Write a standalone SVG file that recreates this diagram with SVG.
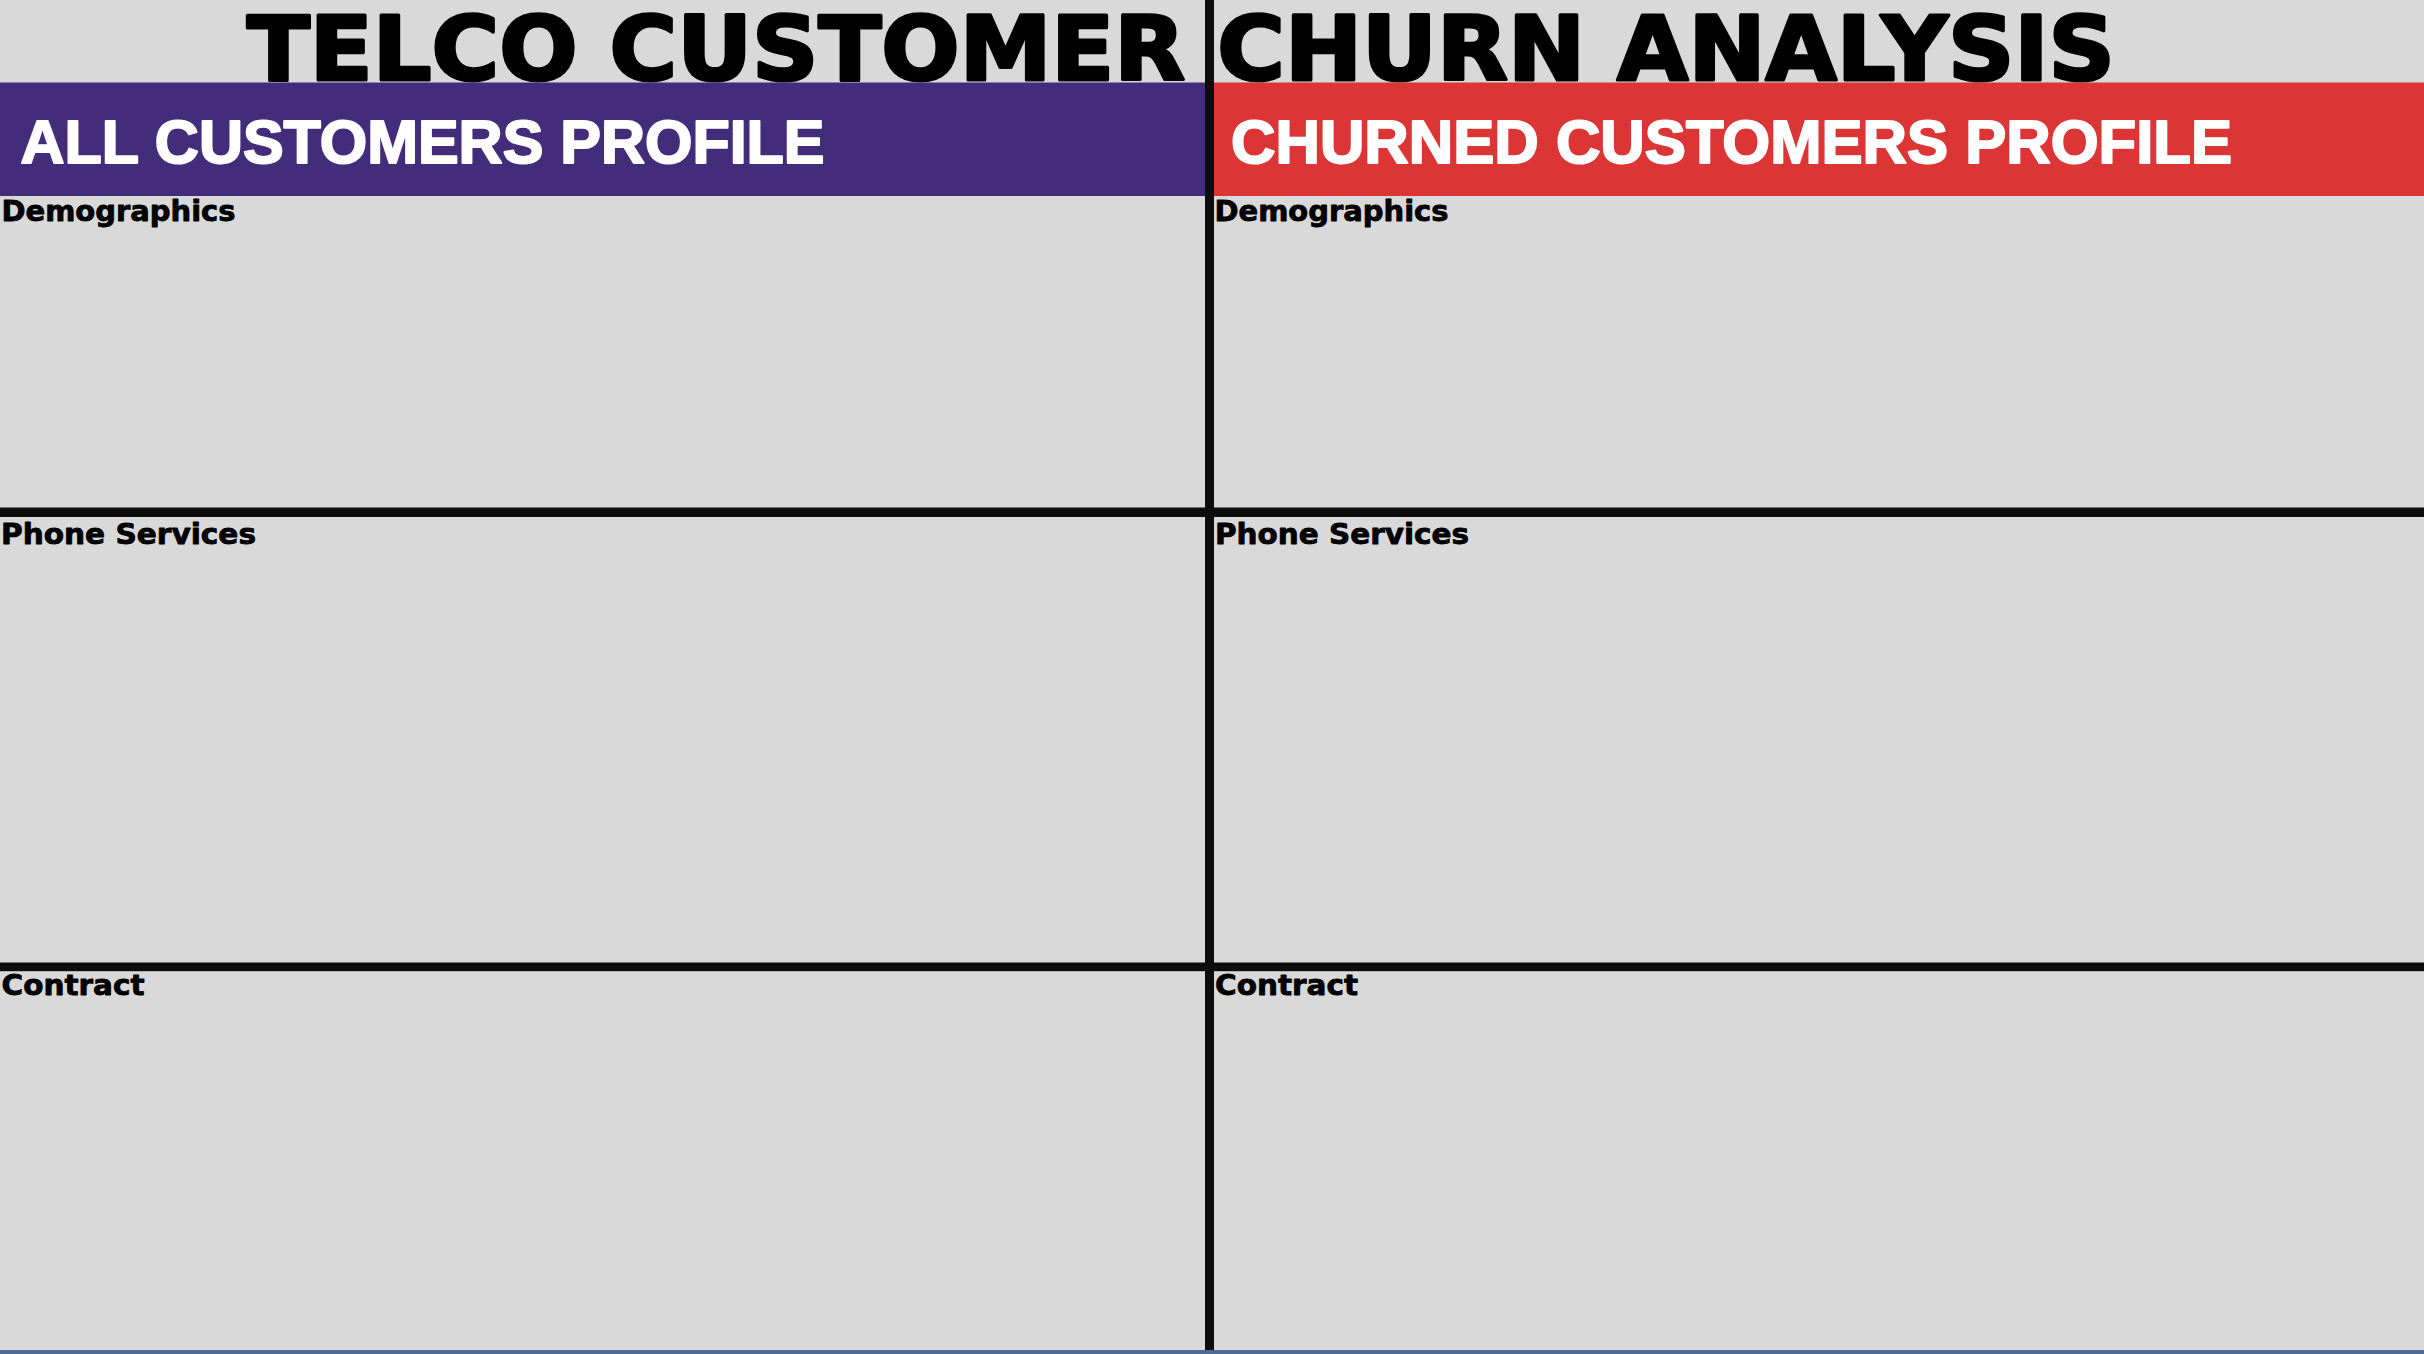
<svg xmlns="http://www.w3.org/2000/svg" width="2424" height="1354" viewBox="0 0 2424 1354">
  <style>
    .title { font-family: "DejaVu Sans", "Liberation Sans", sans-serif; font-weight: bold; font-size: 89px; fill: #000; stroke: #000; stroke-width: 3.2; stroke-linejoin: round; }
    .band-text { font-family: "Liberation Sans", Arial, sans-serif; font-weight: bold; font-size: 61px; fill: #fff; stroke: #fff; stroke-width: 2; stroke-linejoin: round; }
    .label { font-family: "DejaVu Sans", "Liberation Sans", sans-serif; font-weight: bold; font-size: 28.5px; fill: #000; stroke: #000; stroke-width: 0.8; stroke-linejoin: round; }
    .divider { fill: #0d0d0d; }
  </style>
  <rect x="0" y="0" width="2424" height="1354" fill="#d9d9d9"/>

  <g id="title">
    <text class="title" x="247" y="79.5" textLength="1868" lengthAdjust="spacingAndGlyphs">TELCO CUSTOMER CHURN ANALYSIS</text>
  </g>

  <g id="all-customers-header">
    <rect x="0" y="82.5" width="1205" height="113.5" fill="#432c7a"/>
    <text class="band-text" x="20.5" y="163" textLength="804" lengthAdjust="spacingAndGlyphs">ALL CUSTOMERS PROFILE</text>
  </g>

  <g id="churned-customers-header">
    <rect x="1214" y="82.5" width="1210" height="113.5" fill="#dc3536"/>
    <text class="band-text" x="1231" y="163" textLength="1001" lengthAdjust="spacingAndGlyphs">CHURNED CUSTOMERS PROFILE</text>
  </g>

  <g id="all-demographics">
    <text class="label" x="1.5" y="220.5" textLength="234" lengthAdjust="spacingAndGlyphs">Demographics</text>
  </g>
  <g id="churned-demographics">
    <text class="label" x="1214.5" y="220.5" textLength="234" lengthAdjust="spacingAndGlyphs">Demographics</text>
  </g>
  <g id="all-phone-services">
    <text class="label" x="1" y="544" textLength="255" lengthAdjust="spacingAndGlyphs">Phone Services</text>
  </g>
  <g id="churned-phone-services">
    <text class="label" x="1215" y="544" textLength="254" lengthAdjust="spacingAndGlyphs">Phone Services</text>
  </g>
  <g id="all-contract">
    <text class="label" x="1.5" y="995" textLength="143" lengthAdjust="spacingAndGlyphs">Contract</text>
  </g>
  <g id="churned-contract">
    <text class="label" x="1215" y="995" textLength="143" lengthAdjust="spacingAndGlyphs">Contract</text>
  </g>

  <g id="dividers">
    <rect class="divider" x="1205" y="0" width="9" height="1350"/>
    <rect class="divider" x="0" y="507.5" width="2424" height="9.5"/>
    <rect class="divider" x="0" y="962.5" width="2424" height="8.7"/>
    <rect x="0" y="1350" width="2424" height="4" fill="#4d6a94"/>
  </g>
</svg>
